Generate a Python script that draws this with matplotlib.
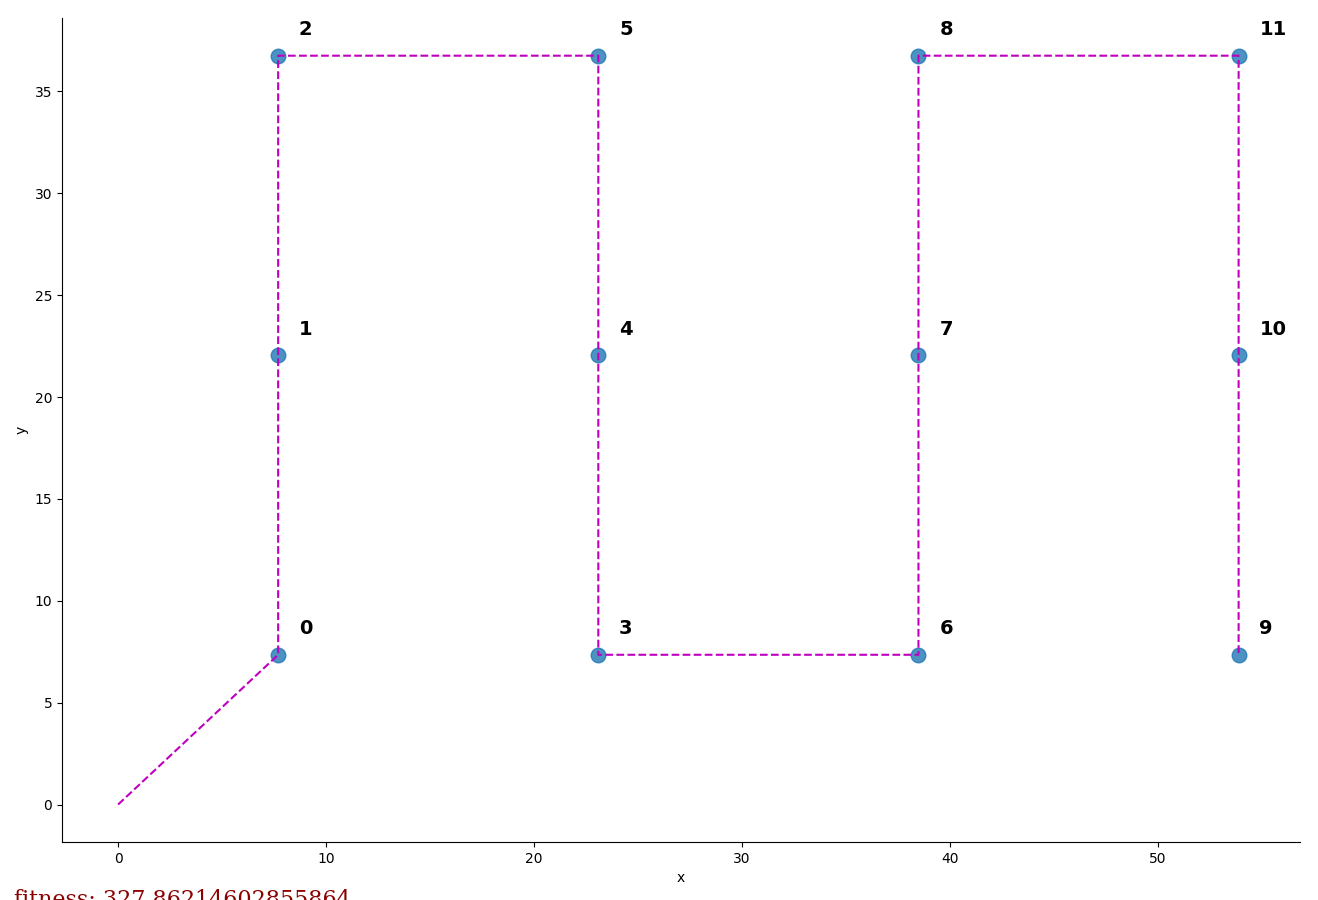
import numpy as np
import matplotlib
matplotlib.use("Agg")
import matplotlib.pyplot as plt

# city coordinates
city_x = [7.7, 7.7, 7.7, 23.1, 23.1, 23.1, 38.5, 38.5, 38.5, 53.9, 53.9, 53.9]
city_y = [7.35, 22.05, 36.75, 7.35, 22.05, 36.75, 7.35, 22.05, 36.75, 7.35, 22.05, 36.75]
# visiting order, starting from the origin
route = [0, 1, 2, 5, 4, 3, 6, 7, 8, 11, 10, 9]
start = (0.0, 0.0)
fitness = 327.86214602855864

fig = plt.figure(figsize=(13.18, 9), dpi=100)
ax = fig.add_axes([0.047, 0.0644, 0.9393, 0.9156])

ax.scatter(city_x, city_y, s=110, c='C0', alpha=0.8, zorder=2)
for i in range(len(city_x)):
    ax.text(city_x[i] + 1, city_y[i] + 1, str(i), fontsize=14, fontweight='bold')

path_x = [start[0]] + [city_x[i] for i in route]
path_y = [start[1]] + [city_y[i] for i in route]
ax.plot(path_x, path_y, 'm--', linewidth=1.5, zorder=3)

ax.set_xlim(-2.7, 56.85)
ax.set_ylim(-1.84, 38.6)
ax.set_xlabel('x')
ax.set_ylabel('y')
ax.spines['top'].set_visible(False)
ax.spines['right'].set_visible(False)

fig.text(0.0106, -6 / 900, f'fitness: {fitness}', family='DejaVu Serif',
         fontsize=16, color='darkred')

fig.savefig('out.png', dpi=100)
